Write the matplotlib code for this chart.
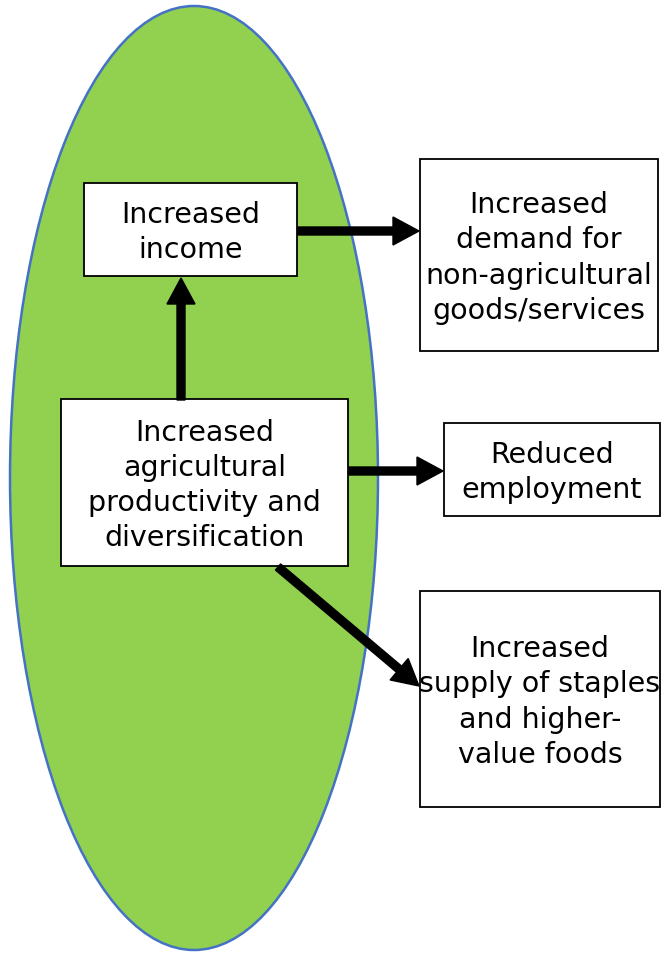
import matplotlib.pyplot as plt
from matplotlib.patches import Ellipse, Rectangle

# box texts
labels = [
    "Increased\nincome",
    "Increased\nagricultural\nproductivity and\ndiversification",
    "Increased\ndemand for\nnon-agricultural\ngoods/services",
    "Reduced\nemployment",
    "Increased\nsupply of staples\nand higher-\nvalue foods",
]
# links between boxes (from, to)
links = [(1, 0), (0, 2), (1, 3), (1, 4)]

# layout in pixels: x0, y0, x1, y1
boxes = [
    (84, 184, 297, 277),
    (61, 400, 348, 567),
    (420, 160, 658, 352),
    (444, 424, 660, 517),
    (420, 592, 660, 808),
]
arrow_pts = {
    (1, 0): ((181, 401), (181, 279)),
    (0, 2): ((298, 232), (419, 232)),
    (1, 3): ((349, 472), (443, 472)),
    (1, 4): ((278, 568), (419, 687)),
}

fig = plt.figure(figsize=(6.65, 9.54), dpi=100)
ax = fig.add_axes([0, 0, 1, 1])
ax.set_xlim(0, 665)
ax.set_ylim(954, 0)
ax.axis('off')

ax.add_patch(Ellipse((194, 479), 368, 944, facecolor='#92D050',
                     edgecolor='#4472C4', lw=1.8, zorder=1))

for (x0, y0, x1, y1), txt in zip(boxes, labels):
    ax.add_patch(Rectangle((x0, y0), x1 - x0, y1 - y0, facecolor='white',
                           edgecolor='black', lw=1.3, zorder=2))
    ax.text((x0 + x1) / 2, (y0 + y1) / 2 + 2, txt, ha='center', va='center',
            fontsize=20.5, linespacing=1.33, family='DejaVu Sans', zorder=3)

for a, b in links:
    (xs, ys), (xe, ye) = arrow_pts[(a, b)]
    ax.arrow(xs, ys, xe - xs, ye - ys, width=8, head_width=28, head_length=26,
             length_includes_head=True, color='black', zorder=4)

fig.savefig('out.png', dpi=100)
